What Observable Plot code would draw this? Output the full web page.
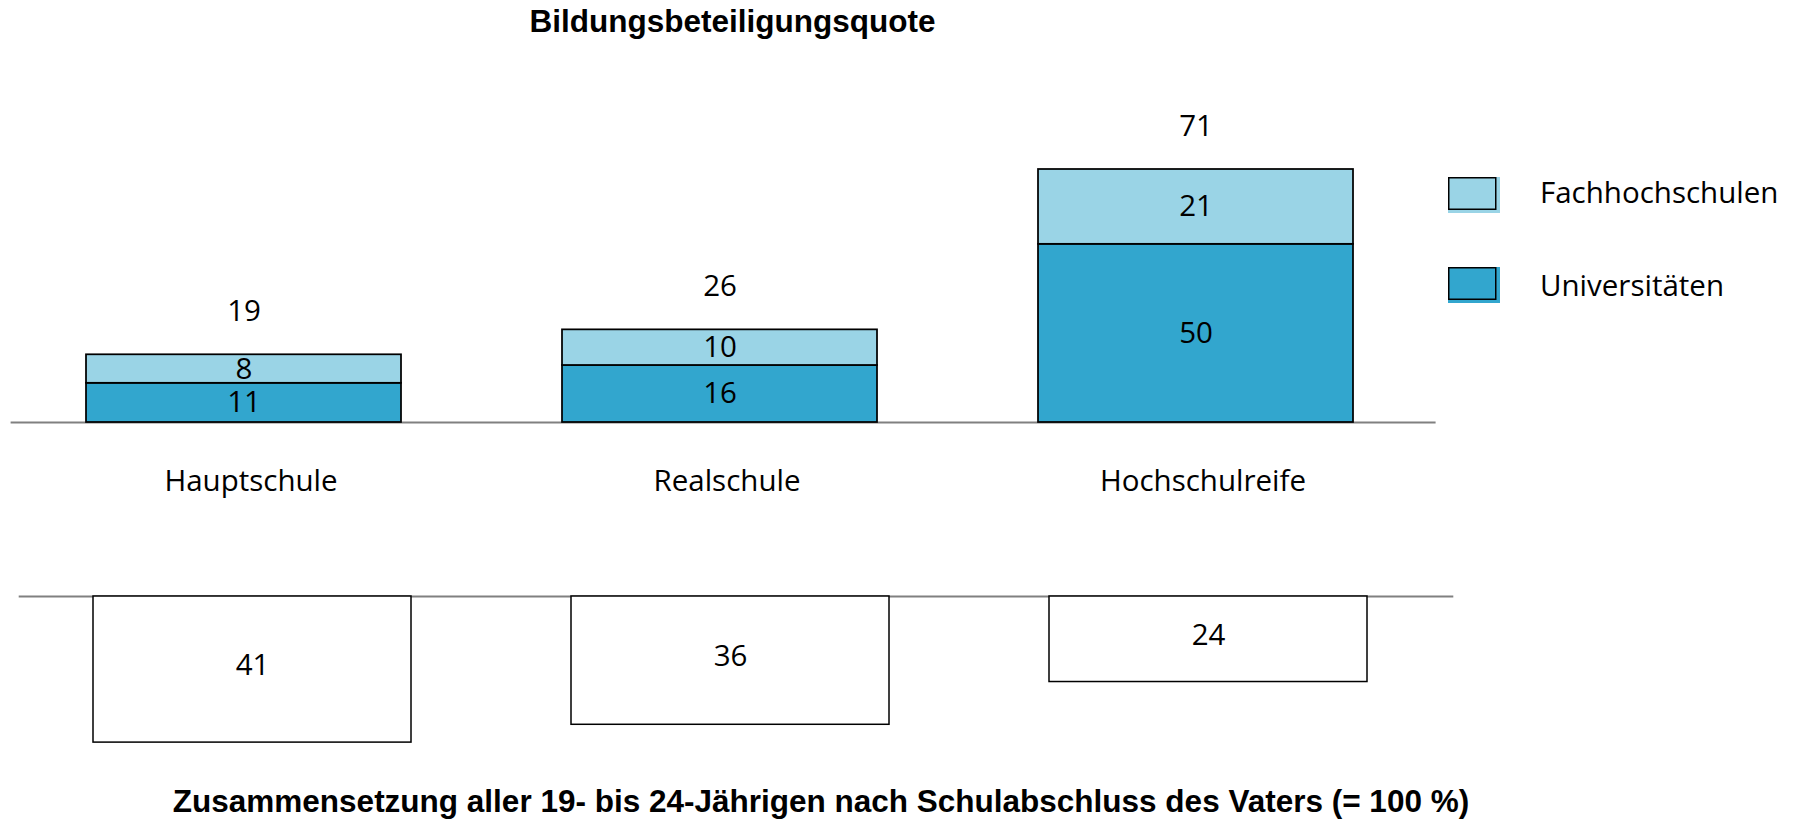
<!DOCTYPE html>
<html><head><meta charset="utf-8">
<script src="https://cdn.jsdelivr.net/npm/d3@7"></script>
<script src="https://cdn.jsdelivr.net/npm/@observablehq/plot@0.6"></script>
<style>
body{margin:0;background:#fff;}
#wrap{position:relative;width:1798px;height:821px;overflow:hidden;background:#fff;}
#upper,#lower,#overlay{position:absolute;left:0;}
#upper{top:0}
#lower{top:530px}
#overlay{top:0;pointer-events:none}
</style></head><body>
<div id="wrap"><div id="upper"></div><div id="lower"></div><svg id="overlay" width="1798" height="821"></svg></div>
<script>
// ---- data ----
const categories = ["Hauptschule", "Realschule", "Hochschulreife"];
const series = ["Universitäten", "Fachhochschulen"];
const universitaeten = [11, 16, 50];
const fachhochschulen = [8, 10, 21];
const totals = [19, 26, 71];
const composition = [41, 36, 24];
const seriesColors = ["#32a6ce", "#9ad4e6"];
const titleText = "Bildungsbeteiligungsquote";
const captionText = "Zusammensetzung aller 19- bis 24-Jährigen nach Schulabschluss des Vaters (= 100 %)";

// ---- tables ----
const stacked = [];
categories.forEach((c, i) => {
  stacked.push({cat: c, series: series[0], value: universitaeten[i]});
  stacked.push({cat: c, series: series[1], value: fachhochschulen[i]});
});
const totalsData = categories.map((c, i) => ({cat: c, total: totals[i]}));
const compData = categories.map((c, i) => ({cat: c, value: composition[i]}));

const labelFont = "'Open Sans', 'Noto Sans', sans-serif";
const fs = 29.5;

const upper = Plot.plot({
  width: 1798, height: 530,
  marginTop: 169, marginBottom: 108, marginLeft: 14.6, marginRight: 373.4,
  style: {fontFamily: labelFont, background: "transparent", color: "#000"},
  x: {domain: categories, paddingInner: 0.3386, paddingOuter: 0.15, axis: null},
  y: {domain: [0, 71], axis: null},
  color: {domain: series, range: seriesColors},
  marks: [
    Plot.ruleY([0], {stroke: "#808080", strokeWidth: 2, insetLeft: -4, insetRight: -11}),
    Plot.barY(stacked, {x: "cat", y: "value", fill: "series", stroke: "#000", strokeWidth: 1.75}),
    Plot.text(stacked, Plot.stackY({x: "cat", y: "value", text: "value", fontSize: fs, fill: "#000"})),
    Plot.text(totalsData, {x: "cat", y: "total", text: "total", dy: -43, fontSize: fs, fill: "#000"}),
    Plot.axisX({anchor: "bottom", tickSize: 0, tickPadding: 48, fontSize: fs, dx: 7, fill: "#000", label: null})
  ]
});
document.getElementById("upper").appendChild(upper);

const lower = Plot.plot({
  width: 1798, height: 291,
  marginTop: 66, marginBottom: 78.9, marginLeft: 20.7, marginRight: 358.7,
  style: {fontFamily: labelFont, background: "transparent", color: "#000"},
  x: {domain: categories, paddingInner: 0.3354, paddingOuter: 0.15, axis: null},
  y: {domain: [0, 41], reverse: true, axis: null},
  marks: [
    Plot.ruleY([0], {stroke: "#808080", strokeWidth: 2, insetLeft: -2, insetRight: -14}),
    Plot.barY(compData, {x: "cat", y: "value", fill: "#fff", stroke: "#000", strokeWidth: 1.5}),
    Plot.text(compData, {x: "cat", y: d => d.value / 2, text: "value", dy: -4, fontSize: fs, fill: "#000"})
  ]
});
document.getElementById("lower").appendChild(lower);

// ---- title, caption, legend ----
const ov = d3.select("#overlay");
const boldFont = "'Liberation Sans', Arial, sans-serif";
ov.append("text").attr("x", 732.5).attr("y", 32).attr("text-anchor", "middle")
  .attr("font-family", boldFont).attr("font-weight", "bold").attr("font-size", 31.5)
  .text(titleText);
ov.append("text").attr("x", 821).attr("y", 812).attr("text-anchor", "middle")
  .attr("font-family", boldFont).attr("font-weight", "bold").attr("font-size", 31.5)
  .text(captionText);

const legendItems = [
  {name: series[1], color: seriesColors[1], top: 177, base: 203},
  {name: series[0], color: seriesColors[0], top: 267, base: 296}
];
legendItems.forEach(it => {
  ov.append("rect").attr("x", 1448).attr("y", it.top).attr("width", 52).attr("height", 36).attr("fill", it.color);
  ov.append("rect").attr("x", 1448.75).attr("y", it.top + 0.75).attr("width", 47).attr("height", 31.5)
    .attr("fill", it.color).attr("stroke", "#000").attr("stroke-width", 1.5);
  ov.append("text").attr("x", 1540).attr("y", it.base).attr("font-family", labelFont)
    .attr("font-size", fs).attr("fill", "#000").text(it.name);
});
</script>
</body></html>
